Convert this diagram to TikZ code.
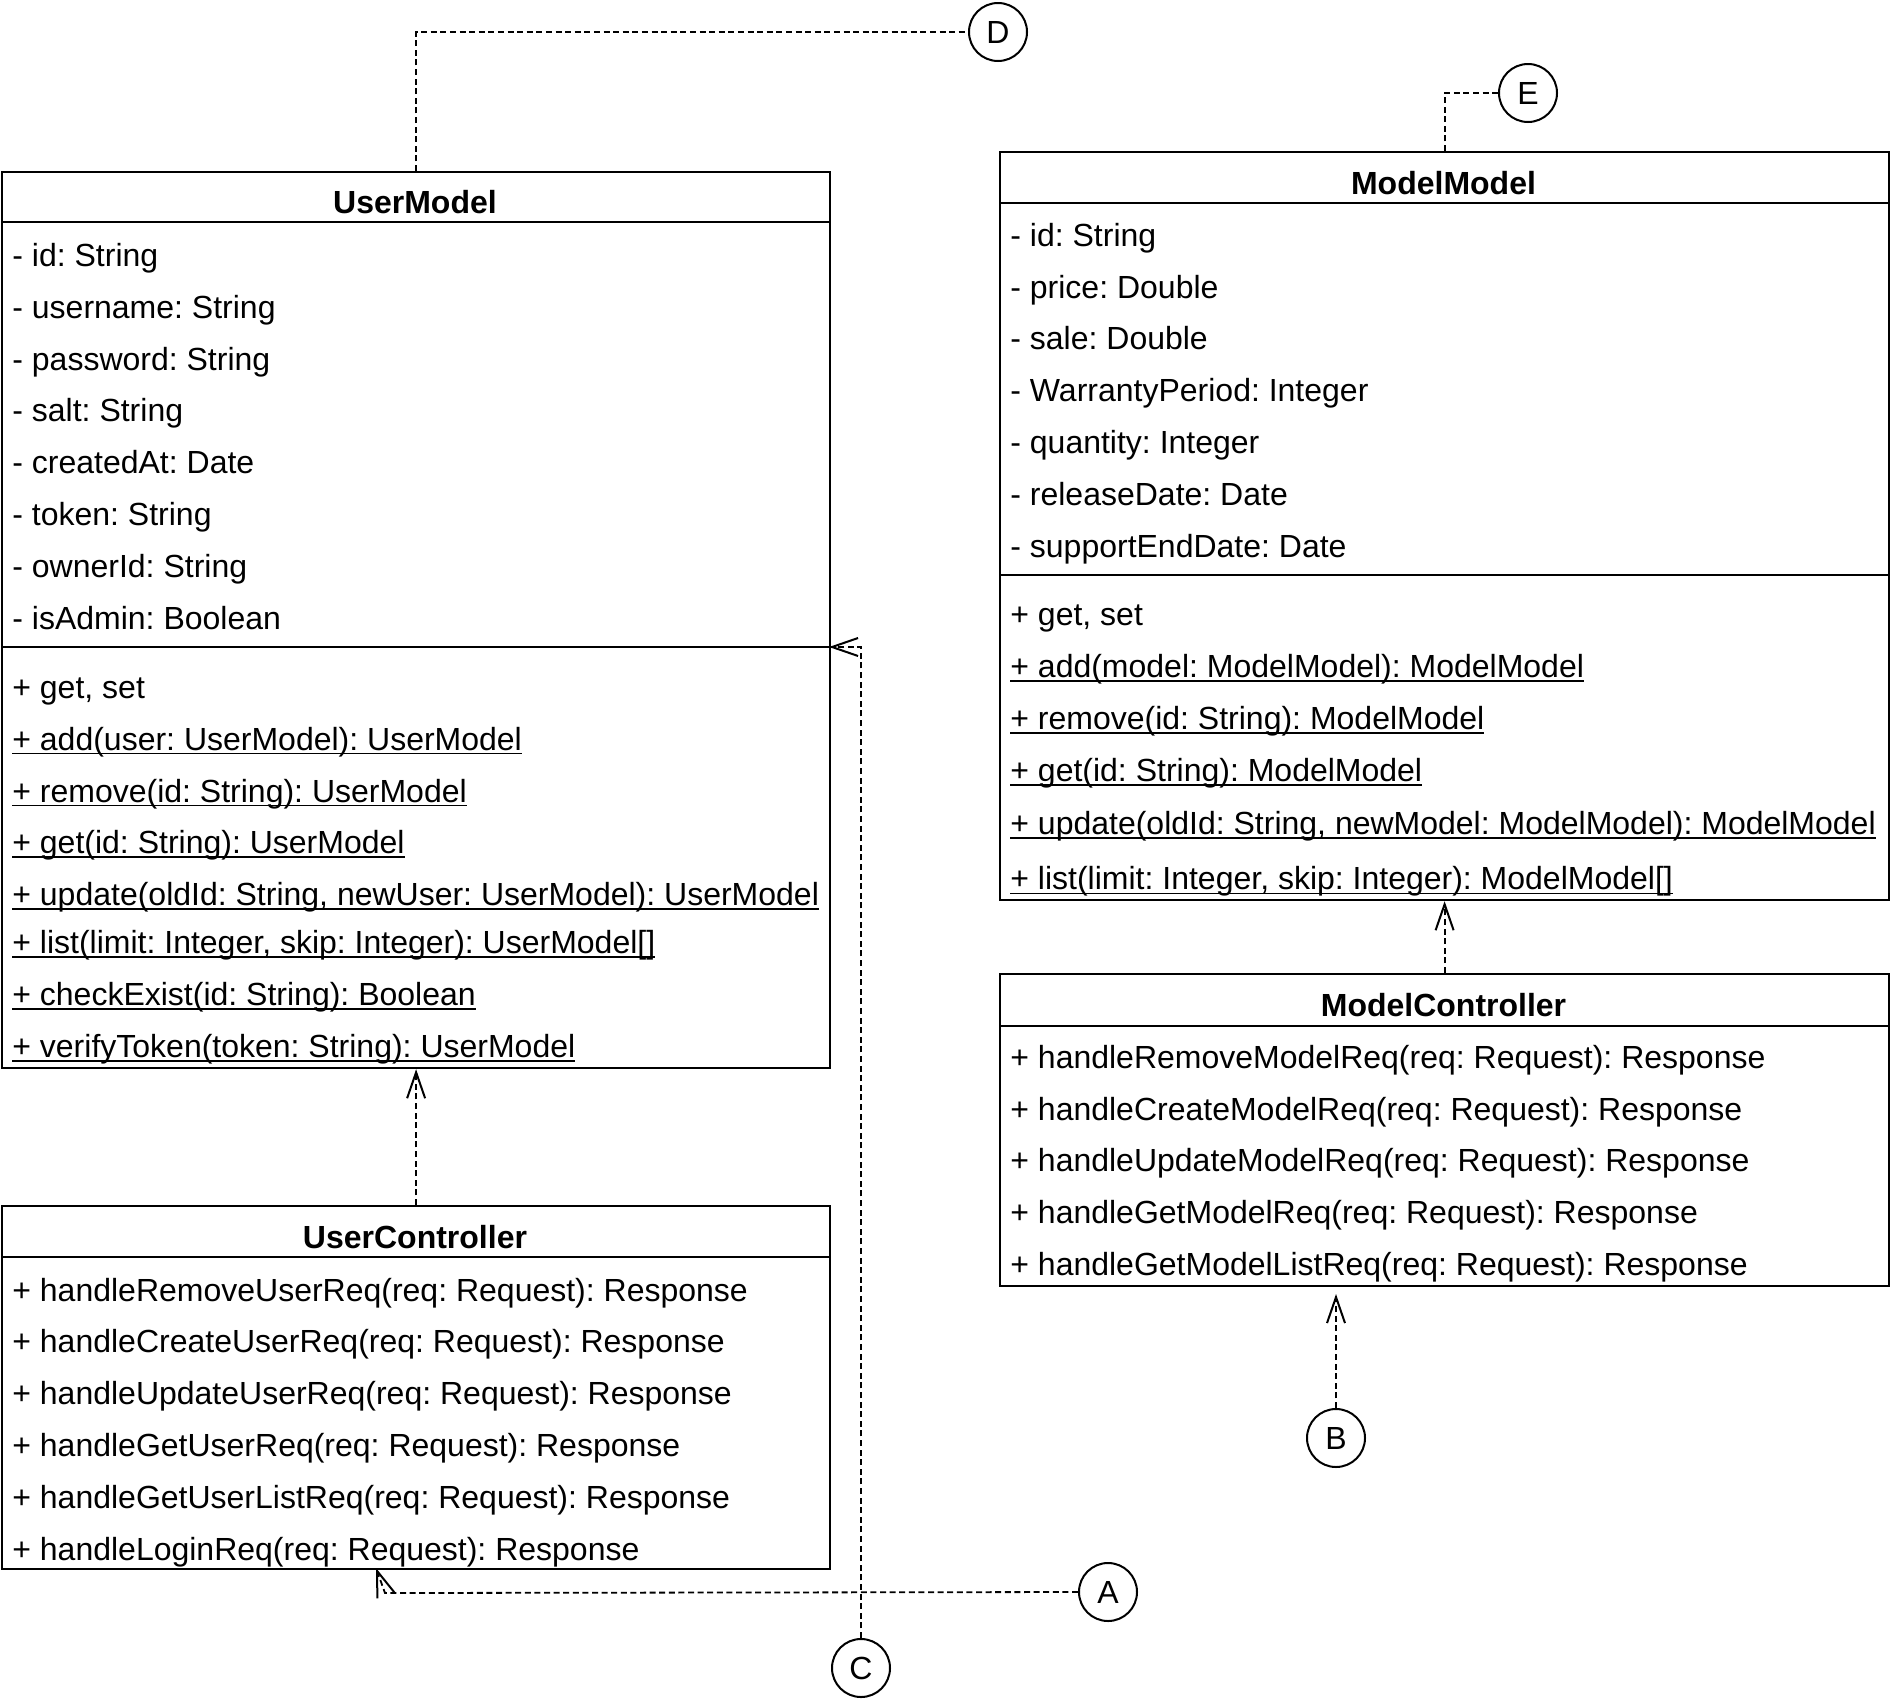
\documentclass[tikz,border=0pt]{standalone}
\usepackage{fontspec}
\setmainfont{Liberation Sans}
\usetikzlibrary{arrows.meta}
\frenchspacing

% static members are underlined (UML)
\newsavebox\stbox
\newcommand\statm[1]{\sbox\stbox{#1}\rlap{\rule[-2.2pt]{\wd\stbox}{0.8pt}}\usebox\stbox}

\begin{document}
\begin{tikzpicture}[x=0.5pt,y=-0.5pt,
  every node/.style={font=\fontsize{16}{19}\selectfont},
  cls/.style={draw, line width=1.1pt, rectangle, inner sep=0pt, anchor=north west},
  row/.style={anchor=base west, inner sep=0pt},
  ttl/.style={anchor=base, inner sep=0pt, font=\fontsize{16}{19}\selectfont\bfseries},
  sep/.style={line width=1.1pt},
  ref/.style={draw, circle, line width=1pt, minimum size=29pt, inner sep=0pt},
  dep/.style={line width=0.9pt, dash pattern=on 3pt off 1.8pt},
  tip/.style={-{Straight Barb[length=13pt,width=9pt,line width=1pt]}}
]
\useasboundingbox (0,0) rectangle (1890,1698);

% ---------- UserModel ----------
\node[cls, minimum width=414pt, minimum height=448pt] (um) at (1,171) {};
\draw[sep] (1,222) -- (829,222);
\draw[sep] (1,647) -- (829,647);
\node[ttl] (umT) at (415,213) {UserModel};
\node[row] (um1) at (12,266.5) {- id: String};
\node[row] (um2) at (12,318.3) {- username: String};
\node[row] (um3) at (12,370.1) {- password: String};
\node[row] (um4) at (12,421.9) {- salt: String};
\node[row] (um5) at (12,473.7) {- createdAt: Date};
\node[row] (um6) at (12,525.5) {- token: String};
\node[row] (um7) at (12,577.3) {- ownerId: String};
\node[row] (um8) at (12,629.1) {- isAdmin: Boolean};
\node[row] (um9) at (12,698) {+ get, set};
\node[row] (um10) at (12,750) {\statm{+ add(user: UserModel): UserModel}};
\node[row] (um11) at (12,802) {\statm{+ remove(id: String): UserModel}};
\node[row] (um12) at (12,853.6) {\statm{+ get(id: String): UserModel}};
\node[row] (um13) at (12,905.4) {\statm{+ update(oldId: String, newUser: UserModel): UserModel}};
\node[row] (um14) at (12,953.6) {\statm{+ list(limit: Integer, skip: Integer): UserModel[]}};
\node[row] (um15) at (12,1005.4) {\statm{+ checkExist(id: String): Boolean}};
\node[row] (um16) at (12,1057.3) {\statm{+ verifyToken(token: String): UserModel}};

% ---------- UserController ----------
\node[cls, minimum width=414pt, minimum height=181.5pt] (uc) at (1,1205) {};
\draw[sep] (1,1257) -- (829,1257);
\node[ttl] (ucT) at (415,1248) {UserController};
\node[row] (uc1) at (12,1301) {+ handleRemoveUserReq(req: Request): Response};
\node[row] (uc2) at (12,1352.6) {+ handleCreateUserReq(req: Request): Response};
\node[row] (uc3) at (12,1404.4) {+ handleUpdateUserReq(req: Request): Response};
\node[row] (uc4) at (12,1456.3) {+ handleGetUserReq(req: Request): Response};
\node[row] (uc5) at (12,1508) {+ handleGetUserListReq(req: Request): Response};
\node[row] (uc6) at (12,1560) {+ handleLoginReq(req: Request): Response};

% ---------- ModelModel ----------
\node[cls, minimum width=444.5pt, minimum height=374pt] (mm) at (999,151) {};
\draw[sep] (999,203) -- (1888,203);
\draw[sep] (999,575) -- (1888,575);
\node[ttl] (mmT) at (1443.5,194) {ModelModel};
\node[row] (mm1) at (1010,246) {- id: String};
\node[row] (mm2) at (1010,298) {- price: Double};
\node[row] (mm3) at (1010,349.7) {- sale: Double};
\node[row] (mm4) at (1010,401.5) {- WarrantyPeriod: Integer};
\node[row] (mm5) at (1010,453.4) {- quantity: Integer};
\node[row] (mm6) at (1010,505.2) {- releaseDate: Date};
\node[row] (mm7) at (1010,557) {- supportEndDate: Date};
\node[row] (mm8) at (1010,625.8) {+ get, set};
\node[row] (mm9) at (1010,677.6) {\statm{+ add(model: ModelModel): ModelModel}};
\node[row] (mm10) at (1010,729.4) {\statm{+ remove(id: String): ModelModel}};
\node[row] (mm11) at (1010,781.2) {\statm{+ get(id: String): ModelModel}};
\node[row] (mm12) at (1010,834.3) {\statm{+ update(oldId: String, newModel: ModelModel): ModelModel}};
\node[row] (mm13) at (1010,889.7) {\statm{+ list(limit: Integer, skip: Integer): ModelModel[]}};

% ---------- ModelController ----------
\node[cls, minimum width=444.5pt, minimum height=156pt] (mc) at (999,973) {};
\draw[sep] (999,1026) -- (1888,1026);
\node[ttl] (mcT) at (1443.5,1016) {ModelController};
\node[row] (mc1) at (1010,1068) {+ handleRemoveModelReq(req: Request): Response};
\node[row] (mc2) at (1010,1120) {+ handleCreateModelReq(req: Request): Response};
\node[row] (mc3) at (1010,1171.8) {+ handleUpdateModelReq(req: Request): Response};
\node[row] (mc4) at (1010,1223.6) {+ handleGetModelReq(req: Request): Response};
\node[row] (mc5) at (1010,1275.4) {+ handleGetModelListReq(req: Request): Response};

% ---------- off-page references ----------
\node[ref] (D) at (998,32) {D};
\node[ref] (E) at (1528,93) {E};
\node[ref] (A) at (1108,1592) {A};
\node[ref] (B) at (1336,1438) {B};
\node[ref] (C) at (861,1668) {C};

% ---------- dependencies ----------
\coordinate (umSep) at (829,647);
\coordinate (bTip) at (1336,1294);
\coordinate (aBend) at (385,1593);
\coordinate (aTip) at (376,1568);

\draw[dep, tip] (uc.north) -- (um.south);
\draw[dep, tip] (mc.north) -- (mm.south);
\draw[dep] (um.north) |- (D.west);
\draw[dep] (mm.north) |- (E.west);
\draw[dep, tip] (B.north) -- (bTip);
\draw[dep, tip] (C.north) |- (umSep);
\draw[dep, tip] (A.west) -- (aBend) -- (aTip);
\end{tikzpicture}
\end{document}
